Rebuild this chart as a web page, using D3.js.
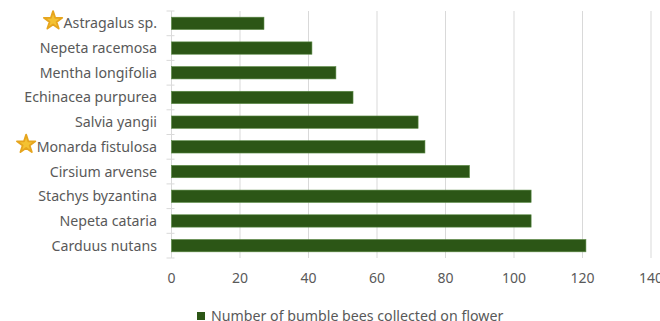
<!DOCTYPE html>
<html>
<head>
<meta charset="utf-8">
<script src="https://cdn.jsdelivr.net/npm/d3@7"></script>
<style>
  body { margin: 0; background: #fff; }
  text { font-family: "Noto Sans", sans-serif; fill: #595959; }
</style>
</head>
<body>
<svg width="660" height="321"></svg>
<script>
const flowers = ['Astragalus sp.', 'Nepeta racemosa', 'Mentha longifolia', 'Echinacea purpurea',
  'Salvia yangii', 'Monarda fistulosa', 'Cirsium arvense', 'Stachys byzantina', 'Nepeta cataria', 'Carduus nutans']
const bees = [27, 41, 48, 53, 72, 74, 87, 105, 105, 121]
const starred = ['Astragalus sp.', 'Monarda fistulosa']
const xTicks = [0, 20, 40, 60, 80, 100, 120, 140]
const legendLabel = 'Number of bumble bees collected on flower'

const svg = d3.select('svg')
const plotLeft = 171.5, plotRight = 651, plotTop = 11, plotBottom = 258

const x = d3.scaleLinear().domain([0, 140]).range([plotLeft, plotRight])
const y = d3.scaleBand().domain(flowers).range([plotTop, plotBottom]).paddingInner(0.5).paddingOuter(0.25)

// gridlines
svg.append('g').selectAll('line')
  .data(xTicks.slice(1))
  .join('line')
  .attr('x1', d => x(d)).attr('x2', d => x(d))
  .attr('y1', plotTop).attr('y2', plotBottom)
  .attr('stroke', '#d9d9d9').attr('stroke-width', 1)

// category axis line + ticks
const yAxis = svg.append('g')
yAxis.append('line')
  .attr('x1', plotLeft).attr('x2', plotLeft).attr('y1', plotTop).attr('y2', plotBottom)
  .attr('stroke', '#d9d9d9')
const step = (plotBottom - plotTop) / flowers.length
yAxis.selectAll('line.tk')
  .data(d3.range(flowers.length + 1))
  .join('line').attr('class', 'tk')
  .attr('x1', plotLeft - 5).attr('x2', plotLeft + 3)
  .attr('y1', i => plotTop + i * step).attr('y2', i => plotTop + i * step)
  .attr('stroke', '#d9d9d9')

// bars
svg.append('g').selectAll('rect')
  .data(flowers)
  .join('rect')
  .attr('x', x(0))
  .attr('y', d => y(d))
  .attr('width', (d, i) => x(bees[i]) - x(0))
  .attr('height', y.bandwidth())
  .attr('fill', '#2c5616')
  .attr('stroke', '#5b8a45').attr('stroke-width', 0.6)

// labels
const labels = svg.append('g').selectAll('text')
  .data(flowers)
  .join('text')
  .attr('x', 157)
  .attr('y', d => y(d) + y.bandwidth() / 2)
  .attr('dy', '0.35em')
  .attr('text-anchor', 'end')
  .style('font-size', '14.2px')
  .text(d => d)

// stars
labels.each(function(d) {
  if (!starred.includes(d)) return
  const b = this.getBBox()
  svg.append('path')
    .attr('d', d3.symbol(d3.symbolStar, 105)())
    .attr('transform', `translate(${b.x - 10.5},${b.y + b.height / 2 - 2})`)
    .attr('fill', '#f4c232')
    .attr('stroke', '#e6a51e').attr('stroke-width', 1.8).attr('stroke-linejoin', 'round')
})

// x axis labels
svg.append('g').selectAll('text')
  .data(xTicks)
  .join('text')
  .attr('x', d => x(d))
  .attr('y', 283)
  .attr('text-anchor', 'middle')
  .style('font-size', '14px')
  .text(d => d)

// legend
const lg = svg.append('g')
lg.append('rect').attr('x', 197).attr('y', 312).attr('width', 8).attr('height', 8).attr('fill', '#2c5616')
lg.append('text').attr('x', 211).attr('y', 321).style('font-size', '14.2px').text(legendLabel)
</script>
</body>
</html>
